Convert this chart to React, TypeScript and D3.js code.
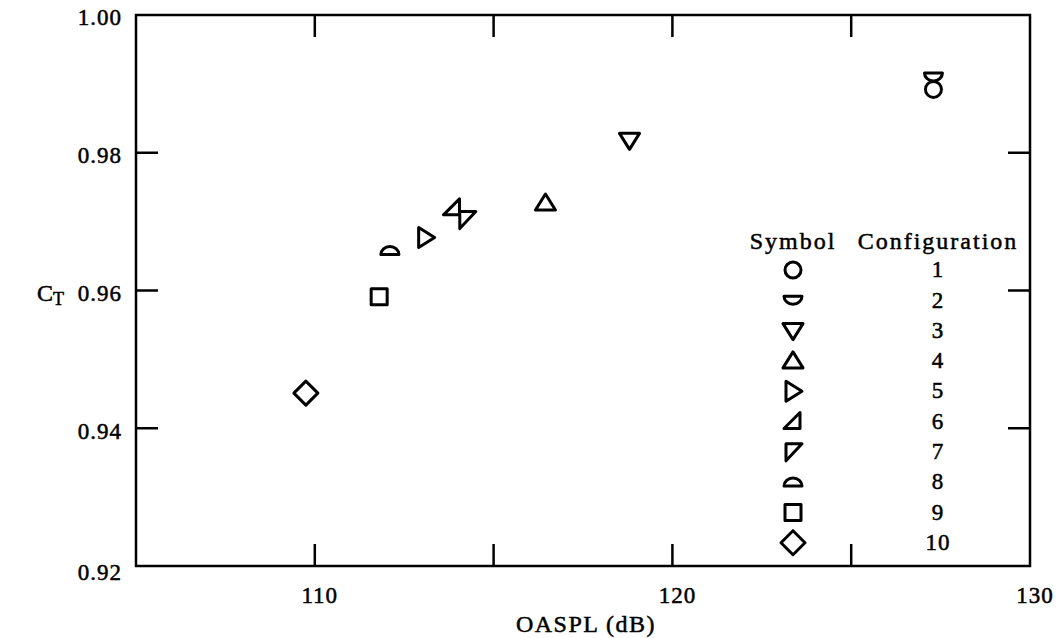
import React from "react";
import * as d3 from "d3";

const configs = [1, 2, 3, 4, 5, 6, 7, 8, 9, 10];
const oaspl = [127.3, 127.3, 118.8, 116.45, 113.1, 113.85, 114.25, 112.1, 111.8, 109.75];
const ct = [0.9892, 0.991, 0.9818, 0.9727, 0.9677, 0.972, 0.9703, 0.9658, 0.9591, 0.9451];
const xTicks = [110, 115, 120, 125];
const xLabels = [110, 120, 130];
const yTicks = [0.98, 0.96, 0.94];
const yLabels = [1.0, 0.98, 0.96, 0.94, 0.92];

const W = 1056;
const H = 638;
const L = 136, R = 1030, T = 15, B = 566;

const x = d3.scaleLinear().domain([105, 130]).range([L, R]);
const y = d3.scaleLinear().domain([0.92, 1.0]).range([B, T]);

const font = "'Liberation Serif', 'Times New Roman', serif";
const txt = { fontFamily: font, stroke: "#000", strokeWidth: 0.5, fill: "#000" } as const;

function symbolPath(c: number): string {
  const p = d3.path();
  switch (c) {
    case 1:
      p.arc(0, 0, 8, 0, Math.PI * 2);
      p.closePath();
      return p.toString();
    case 2:
      return "M-9,-4 L9,-4 A9,8 0 0 1 -9,-4 Z";
    case 3:
      return "M-10,-7 L10,-7 L0,9 Z";
    case 4:
      return "M0,-9 L10,7 L-10,7 Z";
    case 5:
      return "M-7,-10 L9,0 L-7,10 Z";
    case 6:
      return "M7,-9 L7,7 L-9,7 Z";
    case 7:
      return "M-7,-8 L9,-8 L-7,9 Z";
    case 8:
      return "M-9,4 L9,4 A9,8 0 0 0 -9,4 Z";
    case 9:
      return "M-8,-8 L8,-8 L8,8 L-8,8 Z";
    case 10:
      return "M0,-12 L12,0 L0,12 L-12,0 Z";
  }
  return "";
}

export default function App() {
  const legendX = 793;
  const legendNumX = 938;
  const legendY0 = 270;
  const legendDy = 30.3;
  return (
    <svg width={W} height={H} style={{ position: "absolute", left: 0, top: 0, background: "#fff" }}>
      <rect x={0} y={0} width={W} height={H} fill="#fff" />
      <rect x={L} y={T} width={R - L} height={B - T} fill="none" stroke="#000" strokeWidth={2.5} />
      {xTicks.map((t) => (
        <g key={"xt" + t}>
          <line x1={x(t)} x2={x(t)} y1={B} y2={B - 22} stroke="#000" strokeWidth={2.5} />
          <line x1={x(t)} x2={x(t)} y1={T} y2={T + 22} stroke="#000" strokeWidth={2.5} />
        </g>
      ))}
      {yTicks.map((t) => (
        <g key={"yt" + t}>
          <line x1={L} x2={L + 22} y1={y(t)} y2={y(t)} stroke="#000" strokeWidth={2.5} />
          <line x1={R} x2={R - 22} y1={y(t)} y2={y(t)} stroke="#000" strokeWidth={2.5} />
        </g>
      ))}
      {xLabels.map((t) => (
        <text key={"xl" + t} x={x(t) + 5} y={598} textAnchor="middle" dominantBaseline="middle"
          {...txt} fontSize={23} letterSpacing={1}>{t}</text>
      ))}
      {yLabels.map((t, i) => (
        <text key={"yl" + t} x={122} y={y(t) + (i === yLabels.length - 1 ? 9 : 5)} textAnchor="end" dominantBaseline="middle"
          {...txt} fontSize={23} letterSpacing={1}>{d3.format(".2f")(t)}</text>
      ))}
      <text x={586} y={626} textAnchor="middle" dominantBaseline="middle" {...txt} fontSize={24} letterSpacing={1.5}>
        OASPL (dB)
      </text>
      <text x={37} y={295} dominantBaseline="middle" {...txt} fontSize={24}>
        C<tspan fontSize={18} dy={6}>T</tspan>
      </text>
      {configs.map((c, i) => (
        <path key={"pt" + c} d={symbolPath(c)} transform={`translate(${x(oaspl[i])},${y(ct[i])})`}
          fill="none" stroke="#000" strokeWidth={3} strokeLinejoin="round" />
      ))}
      <text x={legendX} y={243} textAnchor="middle" dominantBaseline="middle" {...txt} fontSize={24} letterSpacing={2}>Symbol</text>
      <text x={legendNumX} y={243} textAnchor="middle" dominantBaseline="middle" {...txt} fontSize={24} letterSpacing={2}>Configuration</text>
      {configs.map((c, i) => (
        <g key={"lg" + c} transform={`translate(0,${legendY0 + legendDy * i})`}>
          <path d={symbolPath(c)} transform={`translate(${legendX},0)`} fill="none" stroke="#000" strokeWidth={3} strokeLinejoin="round" />
          <text x={legendNumX} y={2} textAnchor="middle" dominantBaseline="middle" {...txt} fontSize={23} letterSpacing={1}>{c}</text>
        </g>
      ))}
    </svg>
  );
}
